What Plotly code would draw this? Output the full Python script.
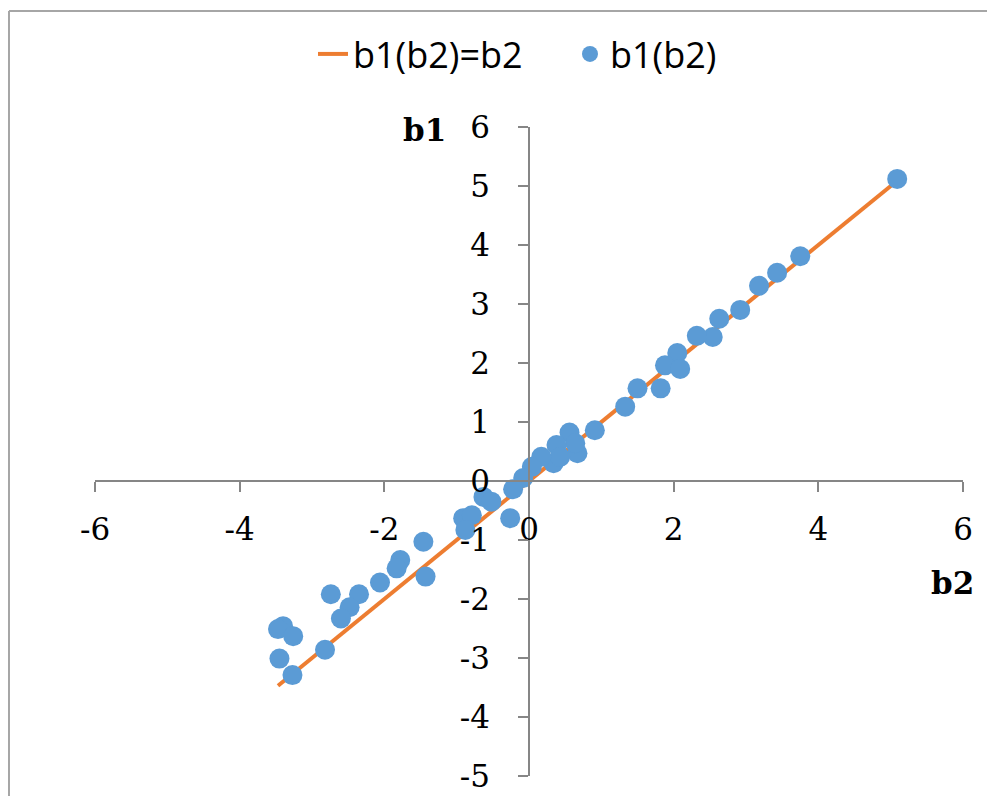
import plotly.graph_objects as go

# Data
b2 = [5.09, 3.75, 3.43, 3.18, 2.92, 2.63, 2.54, 2.32, 2.05, 1.88, 2.09, 1.50, 1.82, 1.33,
      0.91, 0.56, 0.67, 0.64, 0.38, 0.34, 0.43, 0.17, 0.04, -0.08, -0.22,
      -0.63, -0.52, -0.26, -0.91, -0.79, -0.88, -1.46, -1.43, -1.78, -1.83, -2.06,
      -2.35, -2.48, -2.60, -2.74, -2.82, -3.40, -3.47, -3.26, -3.45, -3.27]
b1 = [5.12, 3.81, 3.53, 3.31, 2.90, 2.75, 2.44, 2.46, 2.17, 1.96, 1.90, 1.57, 1.57, 1.26,
      0.86, 0.82, 0.47, 0.64, 0.61, 0.30, 0.41, 0.41, 0.24, 0.05, -0.14,
      -0.27, -0.35, -0.63, -0.63, -0.58, -0.83, -1.03, -1.62, -1.34, -1.48, -1.72,
      -1.92, -2.14, -2.33, -1.92, -2.86, -2.46, -2.51, -2.63, -3.01, -3.29]

line_b2 = [min(b2), max(b2)]
line_b1 = list(line_b2)

x_ticks = [-6, -4, -2, 0, 2, 4, 6]
y_ticks = [-5, -4, -3, -2, -1, 0, 1, 2, 3, 4, 5, 6]

AXIS_COLOR = "#868686"
TICK_FONT = dict(family="DejaVu Serif", size=31, color="#000000")

fig = go.Figure()
fig.add_trace(go.Scatter(
    x=line_b2, y=line_b1, mode="lines", name="b1(b2)=b2",
    line=dict(color="#ED7D31", width=4)))
fig.add_trace(go.Scatter(
    x=b2, y=b1, mode="markers", name="b1(b2)",
    marker=dict(color="#5B9BD5", size=20)))

fig.update_layout(
    width=987, height=788,
    margin=dict(l=87, r=32, t=119, b=20, autoexpand=False),
    paper_bgcolor="white", plot_bgcolor="white",
    showlegend=True,
    legend=dict(orientation="h", xref="container", yref="container",
                x=0.309, y=0.9416, xanchor="left", yanchor="middle",
                entrywidth=212,
                font=dict(family="Open Sans", size=36, color="#000000"),
                bgcolor="rgba(0,0,0,0)"),
    xaxis=dict(range=[-6, 6], tickvals=x_ticks, ticktext=[str(v) for v in x_ticks],
               showgrid=False, zeroline=False, showline=True, automargin=False,
               linecolor=AXIS_COLOR, linewidth=1.5,
               ticks="outside", ticklen=10, tickcolor=AXIS_COLOR, tickwidth=1.5,
               anchor="free", position=5 / 11, ticklabelstandoff=11,
               tickfont=TICK_FONT),
    yaxis=dict(range=[-5, 6], tickvals=y_ticks, ticktext=[str(v) for v in y_ticks],
               showgrid=False, zeroline=False, showline=True, automargin=False,
               linecolor=AXIS_COLOR, linewidth=1.5,
               ticks="outside", ticklen=10, tickcolor=AXIS_COLOR, tickwidth=1.5,
               anchor="free", position=0.5, ticklabelstandoff=22,
               tickfont=TICK_FONT),
    annotations=[
        dict(text="<b>b1</b>", xref="paper", yref="paper", x=0.380, y=0.995,
             showarrow=False, xanchor="center", yanchor="middle",
             font=dict(family="DejaVu Serif", size=31, color="#000000")),
        dict(text="<b>b2</b>", xref="paper", yref="paper", x=0.988, y=0.297,
             showarrow=False, xanchor="center", yanchor="middle",
             font=dict(family="DejaVu Serif", size=31, color="#000000")),
    ],
    shapes=[
        dict(type="line", xref="paper", yref="paper", x0=-0.0991, x1=-0.0991, y0=-0.1, y1=1.1787,
             line=dict(color="#A6A6A6", width=2)),
        dict(type="line", xref="paper", yref="paper", x0=-0.0991, x1=1.1, y0=1.1787, y1=1.1787,
             line=dict(color="#A6A6A6", width=2)),
    ],
)

fig.write_html("out.html")
